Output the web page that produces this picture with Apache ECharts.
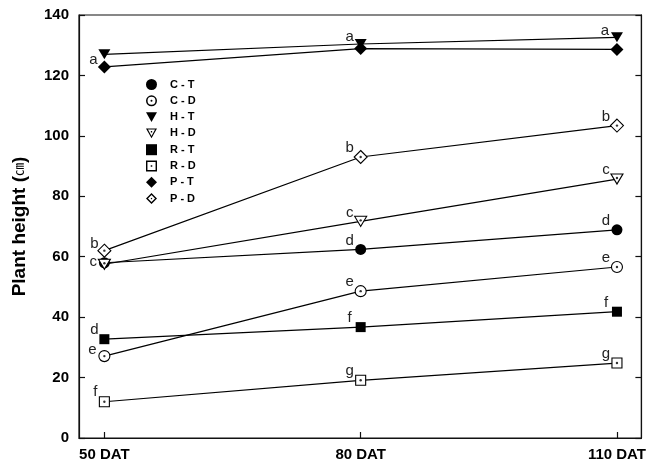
<!DOCTYPE html>
<html>
<head>
<meta charset="utf-8">
<script src="https://cdn.jsdelivr.net/npm/echarts@6/dist/echarts.min.js"></script>
<style>
  html, body { margin: 0; padding: 0; background: #fff; }
  #main { width: 649px; height: 468px; }
</style>
</head>
<body>
<div id="main"></div>
<script>
// days after transplanting
const days = [50, 80, 110]
const dayLabels = ['50 DAT', '80 DAT', '110 DAT']
const yTicks = [0, 20, 40, 60, 80, 100, 120, 140]

// plant height (cm)
const ctValues = [58, 62.4, 68.9]
const cdValues = [27.1, 48.6, 56.6]
const htValues = [127, 130.4, 132.6]
const hdValues = [57.5, 71.7, 85.7]
const rtValues = [32.7, 36.7, 41.8]
const rdValues = [12, 19.1, 24.8]
const ptValues = [122.8, 128.9, 128.6]
const pdValues = [62, 93, 103.4]

// significance letters
const ctLetters = ['c', 'd', 'd']
const cdLetters = ['e', 'e', 'e']
const htLetters = ['', 'a', 'a']
const hdLetters = ['', 'c', 'c']
const rtLetters = ['d', 'f', 'f']
const rdLetters = ['f', 'g', 'g']
const ptLetters = ['a', '', '']
const pdLetters = ['b', 'b', 'b']

const FONT = '"Liberation Sans", Arial, sans-serif'
const dflt = [-11, -9]
// legend icons with a hole and centre dot (for the open markers)
const ringCircle = 'path://M5,0A5,5,0,1,1,5,10A5,5,0,1,1,5,0ZM5,1.4A3.6,3.6,0,1,0,5,8.6A3.6,3.6,0,1,0,5,1.4ZM5,4.1A0.9,0.9,0,1,1,5,5.9A0.9,0.9,0,1,1,5,4.1Z'
const ringTri = 'path://M0,0L10,0L5,9ZM1.8,1L5,6.8L8.2,1ZM4.4,2.4L5.6,2.4L5.6,3.6L4.4,3.6Z'
const ringRect = 'path://M0,0L10,0L10,10L0,10ZM1.3,1.3L1.3,8.7L8.7,8.7L8.7,1.3ZM4.3,4.3L5.7,4.3L5.7,5.7L4.3,5.7Z'
const ringDiamond = 'path://M5,0L10,5L5,10L0,5ZM5,1.8L1.8,5L5,8.2L8.2,5ZM5,4.2L5.8,5L5,5.8L4.2,5Z'
const triDown = 'path://M0,0L10,0L5,9Z'

const defs = [
  { name: 'C - T', values: ctValues, letters: ctLetters, symbol: 'circle', size: 11, open: false, icon: 'circle', offsets: [[-11, -1], dflt, dflt] },
  { name: 'C - D', values: cdValues, letters: cdLetters, symbol: 'circle', size: 11, open: true, icon: ringCircle, offsets: [[-12, -6], dflt, dflt] },
  { name: 'H - T', values: htValues, letters: htLetters, symbol: 'triangle', size: [12, 10], rotate: 180, open: false, icon: triDown, offsets: [dflt, [-11, -7], [-12, -6]] },
  { name: 'H - D', values: hdValues, letters: hdLetters, symbol: 'triangle', size: [12, 10], rotate: 180, open: true, icon: ringTri, offsets: [dflt, dflt, dflt], dotOffset: [0, -1] },
  { name: 'R - T', values: rtValues, letters: rtLetters, symbol: 'rect', size: 10, open: false, icon: 'rect', offsets: [[-10, -9], dflt, dflt] },
  { name: 'R - D', values: rdValues, letters: rdLetters, symbol: 'rect', size: 10, open: true, icon: ringRect, offsets: [[-9, -10], dflt, dflt] },
  { name: 'P - T', values: ptValues, letters: ptLetters, symbol: 'diamond', size: 13, open: false, icon: 'diamond', offsets: [[-11, -7], dflt, dflt] },
  { name: 'P - D', values: pdValues, letters: pdLetters, symbol: 'diamond', size: 13, open: true, icon: ringDiamond, offsets: [[-10, -7], dflt, dflt] },
]

const series = []
defs.forEach((d) => {
  series.push({
    name: d.name,
    type: 'line',
    symbol: d.symbol,
    symbolSize: d.size,
    symbolRotate: d.rotate || 0,
    showAllSymbol: true,
    lineStyle: { color: '#000', width: 1.2 },
    itemStyle: d.open
      ? { color: '#fff', borderColor: '#000', borderWidth: 1.1 }
      : { color: '#000', borderWidth: 0 },
    emphasis: { disabled: true },
    data: d.values.map((v, i) => ({
      value: [days[i], v],
      label: {
        show: !!d.letters[i],
        formatter: d.letters[i],
        position: 'inside',
        offset: d.offsets[i],
        color: '#222',
        fontFamily: FONT,
        fontSize: 15,
      },
    })),
  })
  if (d.open) {
    // centre dot of the open markers
    series.push({
      name: d.name + ' dot',
      type: 'scatter',
      symbol: 'circle',
      symbolSize: 2.4,
      symbolOffset: d.dotOffset || [0, 0],
      itemStyle: { color: '#000' },
      silent: true,
      z: 5,
      data: d.values.map((v, i) => [days[i], v]),
    })
  }
})

const chart = echarts.init(document.getElementById('main'))
chart.setOption({
  animation: false,
  grid: {
    left: 79,
    right: 6,
    top: 15,
    bottom: 30,
    show: true,
    borderColor: '#111',
    borderWidth: 1.2,
  },
  legend: {
    orient: 'vertical',
    left: 141,
    top: 74,
    itemWidth: 11,
    itemHeight: 11,
    itemGap: 5.3,
    selectedMode: false,
    textStyle: {
      fontFamily: FONT,
      fontWeight: 'bold',
      fontSize: 11,
      color: '#000',
      padding: [0, 0, 0, 8],
    },
    data: defs.map(d => ({
      name: d.name,
      icon: d.icon,
      itemStyle: { color: '#000', borderWidth: 0 },
    })),
  },
  xAxis: {
    type: 'value',
    min: 47.03,
    max: 112.86,
    splitLine: { show: false },
    axisLine: { lineStyle: { color: '#111', width: 1.2 } },
    axisTick: {
      inside: true,
      length: 6,
      customValues: days,
      lineStyle: { color: '#111', width: 1.2 },
    },
    axisLabel: {
      customValues: days,
      formatter: v => dayLabels[days.indexOf(v)],
      margin: 9,
      color: '#000',
      fontFamily: FONT,
      fontWeight: 'bold',
      fontSize: 15,
    },
  },
  yAxis: [
    {
      type: 'value',
      min: 0,
      max: 140,
      interval: 20,
      name: '{a|Plant height (}{b|㎝}{a|)}',
      nameLocation: 'middle',
      nameGap: 50,
      nameTextStyle: {
        rich: {
          a: {
            fontFamily: FONT,
            fontWeight: 'bold',
            fontSize: 19,
            color: '#000',
          },
          b: {
            fontFamily: '"Noto Sans CJK SC", sans-serif',
            fontSize: 13,
            color: '#000',
            padding: [0, 0, 3, 0],
          },
        },
      },
      splitLine: { show: false },
      axisLine: { show: true, lineStyle: { color: '#111', width: 1.2 } },
      axisTick: { inside: true, length: 6, lineStyle: { color: '#111', width: 1.2 } },
      axisLabel: {
        formatter: v => (yTicks.includes(v) ? String(v) : ''),
        margin: 10,
        color: '#000',
        fontFamily: FONT,
        fontWeight: 'bold',
        fontSize: 15,
      },
    },
    {
      type: 'value',
      position: 'right',
      min: 0,
      max: 140,
      interval: 20,
      splitLine: { show: false },
      axisLine: { show: true, lineStyle: { color: '#111', width: 1.2 } },
      axisTick: { inside: true, length: 6, lineStyle: { color: '#111', width: 1.2 } },
      axisLabel: { show: false },
    },
  ],
  series,
})
</script>
</body>
</html>
